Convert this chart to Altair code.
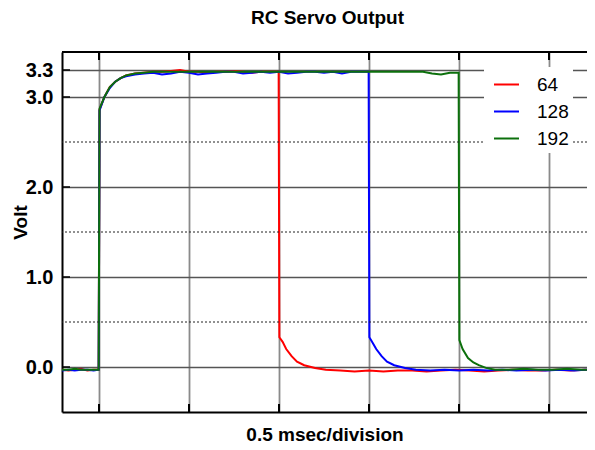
import altair as alt
import pandas as pd

FONT = "Liberation Sans"

series_names = ["64", "128", "192"]
series_colors = ["#ff0000", "#0000ff", "#0c700c"]

# time in msec (0 = rising edge), volts
t64 = [-0.205, -0.17, -0.135, -0.1, -0.065, -0.03, -0.002,
       0.003, 0.03, 0.06, 0.09, 0.12, 0.15, 0.2, 0.25,
       0.3, 0.35, 0.4, 0.45, 0.5, 0.55, 0.6, 0.65, 0.7, 0.75, 0.8, 0.85, 0.9, 0.95, 0.998,
       1.002, 1.02, 1.04, 1.07, 1.1, 1.14, 1.2, 1.26, 1.34, 1.42, 1.5, 1.58, 1.66, 1.74,
       1.82, 1.9, 1.98, 2.06, 2.14, 2.22, 2.3, 2.38, 2.46, 2.54, 2.62, 2.7, 2.711]
v64 = [-0.03, -0.04, -0.03, -0.02, -0.04, -0.03, -0.03,
       2.86, 3.0, 3.11, 3.17, 3.21, 3.24, 3.26, 3.27,
       3.28, 3.28, 3.29, 3.3, 3.28, 3.28, 3.27, 3.28, 3.28, 3.29, 3.28, 3.27, 3.28, 3.28, 3.28,
       0.33, 0.28, 0.2, 0.12, 0.06, 0.02, -0.01, -0.03, -0.04, -0.05, -0.04, -0.05, -0.04, -0.04,
       -0.05, -0.04, -0.03, -0.04, -0.05, -0.04, -0.03, -0.04, -0.04, -0.03, -0.04, -0.03, -0.03]

t128 = [-0.205, -0.17, -0.135, -0.1, -0.065, -0.03, -0.002,
        0.003, 0.03, 0.06, 0.09, 0.12, 0.15, 0.2, 0.25,
        0.3, 0.35, 0.4, 0.45, 0.5, 0.55, 0.6, 0.65, 0.7, 0.75, 0.8, 0.85, 0.9, 0.95,
        1.0, 1.05, 1.1, 1.15, 1.2, 1.25, 1.3, 1.35, 1.4, 1.45, 1.498,
        1.502, 1.52, 1.54, 1.57, 1.6, 1.64, 1.7, 1.76, 1.84, 1.92, 2.0, 2.08, 2.16, 2.24,
        2.32, 2.4, 2.48, 2.56, 2.64, 2.7, 2.711]
v128 = [-0.04, -0.03, -0.04, -0.03, -0.03, -0.04, -0.03,
        2.85, 3.0, 3.1, 3.17, 3.21, 3.23, 3.25, 3.26,
        3.27, 3.25, 3.26, 3.28, 3.27, 3.25, 3.26, 3.27, 3.28, 3.28, 3.26, 3.27, 3.28, 3.27,
        3.28, 3.26, 3.27, 3.28, 3.28, 3.27, 3.28, 3.26, 3.28, 3.28, 3.28,
        0.33, 0.27, 0.2, 0.12, 0.06, 0.02, -0.01, -0.03, -0.04, -0.03, -0.04, -0.03, -0.04, -0.03,
        -0.04, -0.03, -0.04, -0.03, -0.04, -0.03, -0.03]

t192 = [-0.205, -0.17, -0.135, -0.1, -0.065, -0.03, -0.002,
        0.003, 0.03, 0.06, 0.09, 0.12, 0.15, 0.2, 0.25,
        0.3, 0.35, 0.4, 0.45, 0.5, 0.55, 0.6, 0.65, 0.7, 0.75, 0.8, 0.85, 0.9, 0.95,
        1.0, 1.05, 1.1, 1.15, 1.2, 1.25, 1.3, 1.35, 1.4, 1.45, 1.5, 1.55, 1.6, 1.65,
        1.7, 1.75, 1.8, 1.85, 1.9, 1.95, 1.998,
        2.002, 2.02, 2.05, 2.08, 2.11, 2.15, 2.2, 2.28, 2.36, 2.44, 2.52, 2.6, 2.68, 2.711]
v192 = [-0.03, -0.03, -0.02, -0.03, -0.03, -0.03, -0.03,
        2.87, 3.0, 3.11, 3.17, 3.21, 3.24, 3.26, 3.27,
        3.28, 3.28, 3.28, 3.28, 3.28, 3.28, 3.28, 3.28, 3.28, 3.28, 3.28, 3.28, 3.28, 3.28,
        3.28, 3.28, 3.28, 3.28, 3.28, 3.28, 3.28, 3.28, 3.28, 3.28, 3.28, 3.28, 3.28, 3.28,
        3.28, 3.28, 3.28, 3.26, 3.25, 3.27, 3.27,
        0.3, 0.2, 0.1, 0.05, 0.02, -0.01, -0.03, -0.03, -0.02, -0.03, -0.03, -0.02, -0.03, -0.03]

y_ticks = [0.0, 1.0, 2.0, 3.0, 3.3]
y_dotted = [0.5, 1.5, 2.5]
x_divs = [0.0, 0.5, 1.0, 1.5, 2.0, 2.5]
x_domain = [-0.2056, 2.7111]
y_domain = [-0.5, 3.5]

rows = []
for name, ts, vs in [("64", t64, v64), ("128", t128, v128), ("192", t192, v192)]:
    for i, (t, v) in enumerate(zip(ts, vs)):
        rows.append({"series": name, "t": t, "v": v, "i": i})
df = pd.DataFrame(rows)

xscale = alt.Scale(domain=x_domain, nice=False, zero=False)
yscale = alt.Scale(domain=y_domain, nice=False, zero=False)

x_axis = alt.Axis(values=x_divs, labels=False, ticks=False, grid=True,
                  gridColor="#8a8a8a", gridWidth=1.8, domain=True,
                  domainColor="black", domainWidth=2,
                  title="0.5 msec/division", titleFont=FONT, titleFontSize=19,
                  titleFontWeight="bold", titleColor="black", titlePadding=13)
y_axis = alt.Axis(values=y_ticks, format=".1f", ticks=False, grid=True,
                  gridColor="#555555", gridWidth=1.3, domain=True,
                  domainColor="black", domainWidth=2,
                  labelFont=FONT, labelFontSize=20, labelFontWeight="bold",
                  labelColor="black", labelPadding=9,
                  title="Volt", titleFont=FONT, titleFontSize=19,
                  titleFontWeight="bold", titleColor="black",
                  titleX=-42, titleY=170, titleAngle=270,
                  titleAlign="center", titleBaseline="middle")

color = alt.Color("series:N",
                  scale=alt.Scale(domain=series_names, range=series_colors),
                  legend=alt.Legend(title=None, orient="none", legendX=422, legendY=15,
                                    fillColor="white", padding=4,
                                    symbolType="stroke", symbolSize=625,
                                    symbolStrokeWidth=2, symbolOffset=5,
                                    labelFont=FONT, labelFontSize=19,
                                    labelColor="black", labelOffset=17,
                                    rowPadding=3))

X = alt.X("t:Q", scale=xscale, axis=x_axis)
Y = alt.Y("v:Q", scale=yscale, axis=y_axis)

line_layers = []
for name in series_names:
    line_layers.append(
        alt.Chart(df).transform_filter(alt.datum.series == name)
        .mark_line(strokeWidth=2, clip=True)
        .encode(x=X, y=Y, color=color, order="i:Q")
    )

dotted = alt.Chart(pd.DataFrame({"v": y_dotted})).mark_rule(
    strokeDash=[2, 2], color="#222222", strokeWidth=1
).encode(y=Y)

top_border = alt.Chart(pd.DataFrame({"v": [y_domain[1]]})).mark_rule(
    color="black", strokeWidth=2
).encode(y=Y)

xdf = pd.DataFrame({"t": x_divs})
top_ticks = alt.Chart(xdf).mark_rule(color="black", strokeWidth=2).encode(
    x=X, y=alt.value(0), y2=alt.value(8))
bottom_ticks = alt.Chart(xdf).mark_rule(color="black", strokeWidth=2).encode(
    x=X, y=alt.value(352), y2=alt.value(360))
left_ticks = alt.Chart(pd.DataFrame({"v": y_ticks})).mark_rule(color="black", strokeWidth=1.5).encode(
    y=Y, x=alt.value(0), x2=alt.value(8))

chart = alt.layer(*line_layers, dotted, top_border, top_ticks, bottom_ticks, left_ticks).properties(
    width=525, height=360,
    autosize=alt.AutoSizeParams(type="none"),
    padding={"left": 54, "top": 44, "right": 0, "bottom": 40},
    title=alt.TitleParams("RC Servo Output", font=FONT, fontSize=19,
                          fontWeight="bold", color="black", anchor="middle",
                          offset=23, dx=3),
).configure_view(stroke="transparent")

chart.save("out.html", embed_options={"renderer": "svg", "actions": False})
